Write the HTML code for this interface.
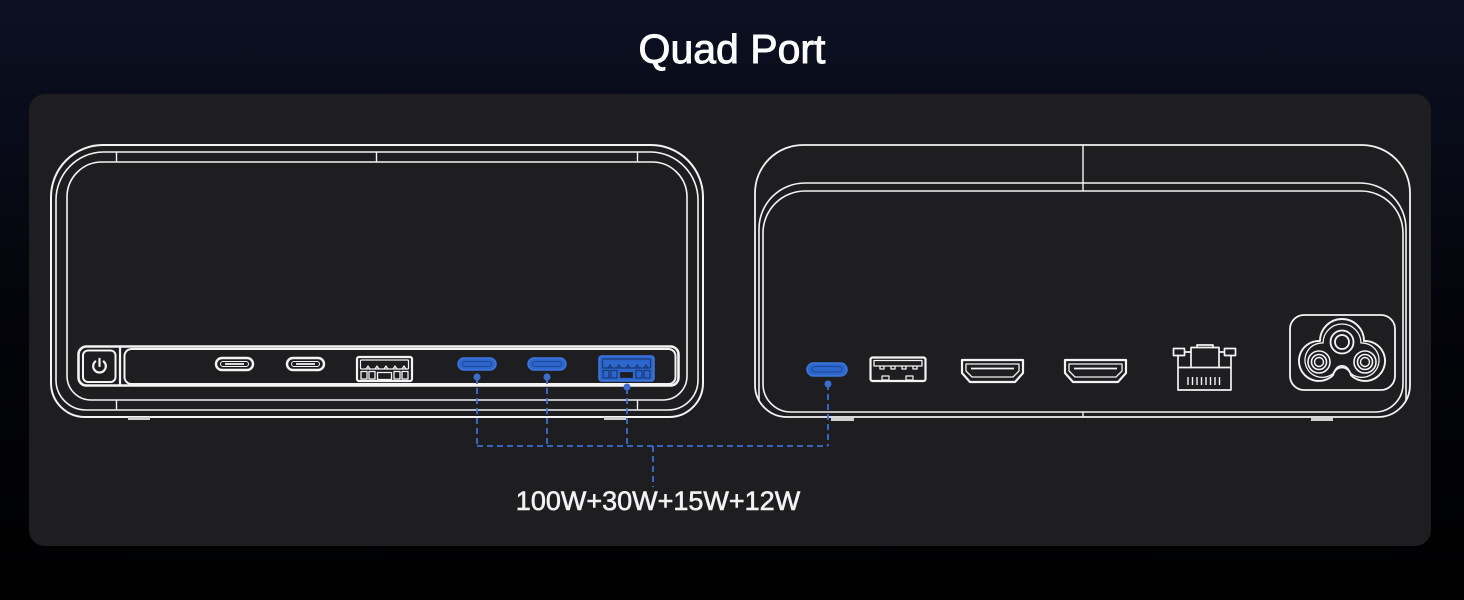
<!DOCTYPE html>
<html><head><meta charset="utf-8"><style>
html,body{margin:0;padding:0;width:1464px;height:600px;overflow:hidden;background:#000;}
svg{display:block;}
</style></head><body>
<svg width="1464" height="600" viewBox="0 0 1464 600" xmlns="http://www.w3.org/2000/svg">
<defs>
<linearGradient id="bg" x1="0" y1="0" x2="0" y2="1">
<stop offset="0" stop-color="#0c1021"/>
<stop offset="0.18" stop-color="#090c1a"/>
<stop offset="0.5" stop-color="#04050b"/>
<stop offset="1" stop-color="#000000"/>
</linearGradient>
</defs>
<rect x="0" y="0" width="1464" height="600" fill="url(#bg)"/>
<text x="732" y="63" text-anchor="middle" font-family="Liberation Sans, sans-serif" font-size="41" fill="#ffffff" stroke="#ffffff" stroke-width="0.9">Quad Port</text>
<rect x="29" y="94" width="1402" height="452" rx="16" fill="#1e1e20"/>

<!-- LEFT DEVICE -->
<g fill="none" stroke="#f4f4f4" stroke-linejoin="round">
<path stroke-width="2" d="M103,145 H651 A52 52 0 0 1 703,197 V383 A34 34 0 0 1 669,417 H85 A34 34 0 0 1 51,383 V197 A52 52 0 0 1 103,145 Z"/>
<path stroke-width="1.6" d="M103,152 H651 A48 48 0 0 1 698,200 V380 A30 30 0 0 1 668,410 H86 A30 30 0 0 1 56,380 V200 A48 48 0 0 1 103,152 Z"/>
<path stroke-width="1.6" d="M102,162 H652 A35 35 0 0 1 687,197 V376 A24 24 0 0 1 663,400 H91 A24 24 0 0 1 67,376 V197 A35 35 0 0 1 102,162 Z"/>
<path stroke-width="1.4" d="M116.5,152 V162 M376.5,152 V162 M637.5,152 V162 M116.5,400 V410 M637.5,400 V410"/>
<!-- port strip -->
<rect x="78.5" y="346.5" width="600" height="39" rx="8" stroke-width="2.6"/>
<path stroke-width="2.2" d="M120,347 V385"/>
<rect x="124.5" y="349" width="551" height="35" rx="7" stroke-width="2"/>
<rect x="83" y="350.5" width="32.5" height="31.5" rx="5" stroke-width="2"/>
<path stroke-width="2.2" stroke-linecap="round" d="M95.3,361.5 A6.3 6.3 0 1 0 103.7,361.5 M99.5,358.8 V366"/>
<!-- white USB-C 1 -->
<rect x="216" y="358" width="37" height="12" rx="6" stroke-width="2.4"/>
<rect x="220.5" y="361.5" width="28" height="5" rx="2.5" stroke-width="1"/>
<path stroke-width="1.8" d="M225,364 H244"/>
<!-- white USB-C 2 -->
<rect x="287" y="358" width="37" height="12" rx="6" stroke-width="2.4"/>
<rect x="291.5" y="361.5" width="28" height="5" rx="2.5" stroke-width="1"/>
<path stroke-width="1.8" d="M296,364 H315"/>
<!-- white USB-A -->
<rect x="357" y="357" width="55" height="24" rx="2" stroke-width="2.2"/>
<rect x="360.5" y="360" width="48" height="9" rx="1" stroke-width="1.2"/>
<path stroke-width="1.2" d="M366,369 l2,-3 l2,3 M375,369 l2,-3 l2,3 M384,369 l2,-3 l2,3 M393,369 l2,-3 l2,3 M402,369 l2,-3 l2,3"/>
<rect x="361" y="371.5" width="6" height="7.5" stroke-width="1.3"/>
<rect x="369" y="371.5" width="6" height="7.5" stroke-width="1.3"/>
<rect x="377.5" y="372.5" width="14" height="7" stroke-width="1.3"/>
<rect x="394" y="371.5" width="6" height="7.5" stroke-width="1.3"/>
<rect x="402" y="371.5" width="6" height="7.5" stroke-width="1.3"/>
</g>
<!-- feet left -->
<rect x="128" y="417" width="22" height="3" fill="#cfcfcf"/>
<rect x="604" y="417" width="22" height="3" fill="#cfcfcf"/>

<!-- blue ports left -->
<g>
<rect x="458" y="358" width="38" height="12" rx="6" fill="#2e67cc" stroke="#3b76de" stroke-width="1.5"/>
<rect x="462.5" y="361.5" width="29" height="5" rx="2.5" fill="none" stroke="#1c4696" stroke-width="1"/>
<rect x="528" y="358" width="38" height="12" rx="6" fill="#2e67cc" stroke="#3b76de" stroke-width="1.5"/>
<rect x="532.5" y="361.5" width="29" height="5" rx="2.5" fill="none" stroke="#1c4696" stroke-width="1"/>
<rect x="599" y="356" width="55" height="25" rx="2.5" fill="#2e67cc" stroke="#3b76de" stroke-width="1.5"/>
<g fill="none" stroke="#17397a" stroke-width="1.2">
<rect x="602.5" y="359" width="48" height="9" rx="1"/>
<path d="M608,368 l2,-3 l2,3 M617,368 l2,-3 l2,3 M626,368 l2,-3 l2,3 M635,368 l2,-3 l2,3 M644,368 l2,-3 l2,3"/>
<rect x="603" y="370.5" width="6" height="7.5"/>
<rect x="611" y="370.5" width="6" height="7.5"/>
<rect x="619.5" y="371.5" width="14" height="7" fill="#1e1e20" stroke="#2e67cc"/>
<rect x="636" y="370.5" width="6" height="7.5"/>
<rect x="644" y="370.5" width="6" height="7.5"/>
</g>
</g>

<!-- RIGHT DEVICE -->
<g fill="none" stroke="#f4f4f4" stroke-linejoin="round">
<path stroke-width="1.8" d="M803,145 H1362 A48 48 0 0 1 1410,193 V385 A32 32 0 0 1 1378,417 H787 A32 32 0 0 1 755,385 V193 A48 48 0 0 1 803,145 Z"/>
<path stroke-width="1.6" d="M759,400 V229 A46 46 0 0 1 805,183 H1360 A46 46 0 0 1 1406,229 V400"/>
<path stroke-width="1.6" d="M805,191 H1361 A42 42 0 0 1 1403,233 V384 A28 28 0 0 1 1375,412 H791 A28 28 0 0 1 763,384 V233 A42 42 0 0 1 805,191 Z"/>
<path stroke-width="1.4" d="M1083,145 V191 M1083,412 V417"/>
<!-- USB-A -->
<rect x="870.5" y="357.5" width="55" height="23.5" rx="2" stroke-width="2.2"/>
<path stroke-width="1.3" d="M874,360.5 H922 V366 H874 Z"/>
<path stroke-width="1.3" d="M880,366 v3 h4 v-3 M891,366 v3 h4 v-3 M902,366 v3 h4 v-3 M913,366 v3 h4 v-3"/>
<rect x="882" y="376" width="7" height="4" stroke-width="1.2"/>
<rect x="906" y="376" width="7" height="4" stroke-width="1.2"/>
<!-- HDMI 1 -->
<path stroke-width="2.2" d="M962,360 H1023 V373 L1015,382 H970 L962,373 Z"/>
<path stroke-width="1.3" d="M966,364 H1019 V371 L1013,377 H972 L966,371 Z"/>
<path stroke-width="1.8" d="M971,368.5 H1014"/>
<!-- HDMI 2 -->
<path stroke-width="2.2" d="M1065,360 H1126 V373 L1118,382 H1073 L1065,373 Z"/>
<path stroke-width="1.3" d="M1069,364 H1122 V371 L1116,377 H1075 L1069,371 Z"/>
<path stroke-width="1.8" d="M1074,368.5 H1117"/>
<!-- RJ45 -->
<g stroke-width="1.7">
<rect x="1173.5" y="348.5" width="11" height="7"/>
<rect x="1224.5" y="348.5" width="11" height="7"/>
<path d="M1178,355.5 V390 H1231 V355.5"/>
<path d="M1184.5,352 H1191 M1219,352 H1224.5"/>
<rect x="1191" y="347.5" width="28" height="20"/>
<path d="M1197,347.5 V345 H1213 V347.5"/>
<path d="M1178,367.5 H1191 M1219,367.5 H1231"/>
</g>
<path stroke-width="1.4" d="M1188,377 V385 M1192.5,377 V385 M1197,377 V385 M1201.5,377 V385 M1206,377 V385 M1210.5,377 V385 M1215,377 V385 M1219.5,377 V385"/>
<!-- AC inlet -->
<rect x="1290" y="315" width="105" height="75" rx="14" stroke-width="1.8"/>
<path stroke-width="1.9" d="M1320,341 A22 22 0 0 1 1364,341 A20 20 0 1 1 1350.9,375.1 A9 9 0 0 0 1333.1,375.1 A20 20 0 1 1 1320,341 Z"/>
<path stroke-width="1.5" transform="translate(1342 355) scale(0.86) translate(-1342 -355)" d="M1320,341 A22 22 0 0 1 1364,341 A20 20 0 1 1 1350.9,375.1 A9 9 0 0 0 1333.1,375.1 A20 20 0 1 1 1320,341 Z"/>
<circle cx="1342" cy="342" r="11.5" stroke-width="1.8"/>
<circle cx="1342" cy="342" r="7" stroke-width="1.8"/>
<circle cx="1319" cy="362" r="11" stroke-width="1.6"/>
<circle cx="1319" cy="362" r="7.5" stroke-width="1.6"/>
<circle cx="1319" cy="362" r="4.5" stroke-width="1.4"/>
<circle cx="1365" cy="362" r="11" stroke-width="1.6"/>
<circle cx="1365" cy="362" r="7.5" stroke-width="1.6"/>
<circle cx="1365" cy="362" r="4.5" stroke-width="1.4"/>
</g>
<rect x="831" y="418" width="23" height="3" fill="#cfcfcf"/>
<rect x="1311" y="418" width="22" height="3" fill="#cfcfcf"/>
<!-- blue USB-C right -->
<rect x="807" y="363" width="40" height="13" rx="6.5" fill="#2e67cc" stroke="#3b76de" stroke-width="1.5"/>
<rect x="812" y="366.5" width="30" height="5.5" rx="2.7" fill="none" stroke="#1c4696" stroke-width="1"/>

<!-- connectors -->
<g fill="none" stroke="#3a6fd2" stroke-width="1.8" stroke-dasharray="6 4">
<path d="M477,378 V446"/>
<path d="M547,378 V446"/>
<path d="M627,388 V446"/>
<path d="M828,384 V446"/>
<path d="M477,446 H828"/>
<path d="M653,446 V487"/>
</g>
<g fill="#3a6fd2">
<circle cx="477" cy="377" r="3.5"/>
<circle cx="547" cy="377" r="3.5"/>
<circle cx="627" cy="387" r="3.5"/>
<circle cx="828" cy="384" r="3.5"/>
</g>
<text x="658" y="510" text-anchor="middle" font-family="Liberation Sans, sans-serif" font-size="27" fill="#f2f2f2" stroke="#f2f2f2" stroke-width="0.6">100W+30W+15W+12W</text>
</svg>
</body></html>
